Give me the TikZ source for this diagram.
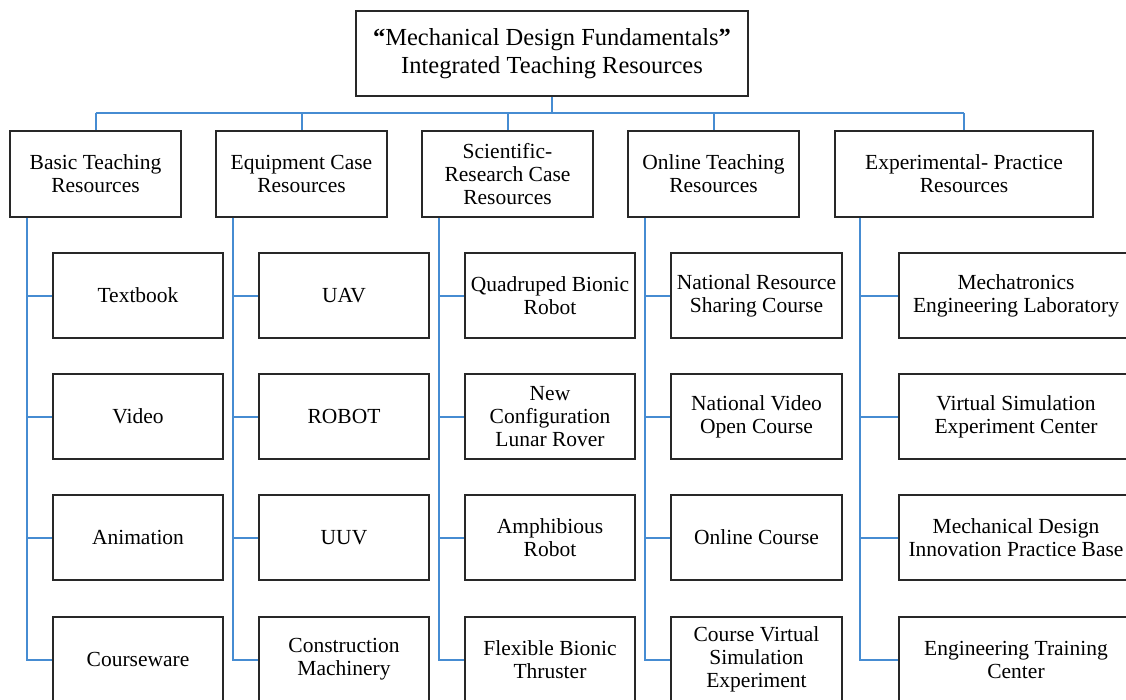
\documentclass[tikz,border=0pt]{standalone}
\usepackage{fontspec}
\setmainfont{Liberation Serif}
\definecolor{linkblue}{RGB}{70,140,210}
\definecolor{boxline}{RGB}{40,40,40}
\begin{document}
\begin{tikzpicture}[x=1pt,y=-1pt,
  box/.style={draw=boxline,line width=1.4pt,rectangle,inner sep=0pt,align=center,
    font=\fontsize{21.5}{23}\selectfont,text=black},
  cat/.style={box,minimum width=171pt,minimum height=86pt},
  kid/.style={box,minimum width=170pt,minimum height=85pt},
  conn/.style={draw=linkblue,line width=2pt}]
\useasboundingbox (0,0) rectangle (1126,699);
\clip (0,0) rectangle (1126,699);
\node[box,minimum width=392pt,minimum height=85pt,font=\fontsize{24.5}{28}\selectfont] (top) at (552,53.5)
  {{\bfseries “}Mechanical Design Fundamentals{\bfseries ”}\\Integrated Teaching Resources};
% categories
\node[cat] (c1) at (95.5,174) {Basic Teaching\\Resources};
\node[cat] (c2) at (301.5,174) {Equipment Case\\Resources};
\node[cat] (c3) at (507.5,174) {Scientific-\\Research Case\\Resources};
\node[cat] (c4) at (713.5,174) {Online Teaching\\Resources};
\node[cat,minimum width=258pt] (c5) at (964,174) {Experimental- Practice\\Resources};
% children column 1
\node[kid] (a1) at (138,295.5) {Textbook};
\node[kid] (a2) at (138,416.5) {Video};
\node[kid] (a3) at (138,537.5) {Animation};
\node[kid] (a4) at (138,659.5) {Courseware};
% column 2
\node[kid] (b1) at (344,295.5) {UAV};
\node[kid] (b2) at (344,416.5) {ROBOT};
\node[kid] (b3) at (344,537.5) {UUV};
\node[kid] (b4) at (344,659.5) {Construction\\Machinery};
% column 3
\node[kid] (s1) at (550,295.5) {Quadruped Bionic\\Robot};
\node[kid] (s2) at (550,416.5) {New\\Configuration\\Lunar Rover};
\node[kid] (s3) at (550,537.5) {Amphibious\\Robot};
\node[kid] (s4) at (550,659.5) {Flexible Bionic\\Thruster};
% column 4
\node[kid,minimum width=171pt] (o1) at (756.5,295.5) {National Resource\\Sharing Course};
\node[kid,minimum width=171pt] (o2) at (756.5,416.5) {National Video\\Open Course};
\node[kid,minimum width=171pt] (o3) at (756.5,537.5) {Online Course};
\node[kid,minimum width=171pt] (o4) at (756.5,659.5) {Course Virtual\\Simulation\\Experiment};
% column 5
\node[kid,minimum width=234pt] (e1) at (1016,295.5) {Mechatronics\\Engineering Laboratory};
\node[kid,minimum width=234pt] (e2) at (1016,416.5) {Virtual Simulation\\Experiment Center};
\node[kid,minimum width=234pt] (e3) at (1016,537.5) {Mechanical Design\\Innovation Practice Base};
\node[kid,minimum width=234pt] (e4) at (1016,659.5) {Engineering Training\\Center};
% bus
\coordinate (bus) at (552,113);
\draw[conn] (top.south) -- (bus);
\draw[conn] (c1.north |- bus) -- (c5.north |- bus);
\foreach \c in {c1,c2,c3,c4} \draw[conn] (\c.north |- bus) -- (\c.north);
\draw[conn] (c5.north |- bus) -- (c5.north);
% branches
\foreach \c/\p/\dx in {c1/a/18,c2/b/18,c3/s/18,c4/o/18,c5/e/26}{
  \draw[conn] ([xshift=\dx]\c.south west) |- (\p4.west);
  \foreach \i in {1,2,3}
    \draw[conn] ([xshift=\dx]\c.south west |- \p\i.west) -- (\p\i.west);
}
\end{tikzpicture}
\end{document}
